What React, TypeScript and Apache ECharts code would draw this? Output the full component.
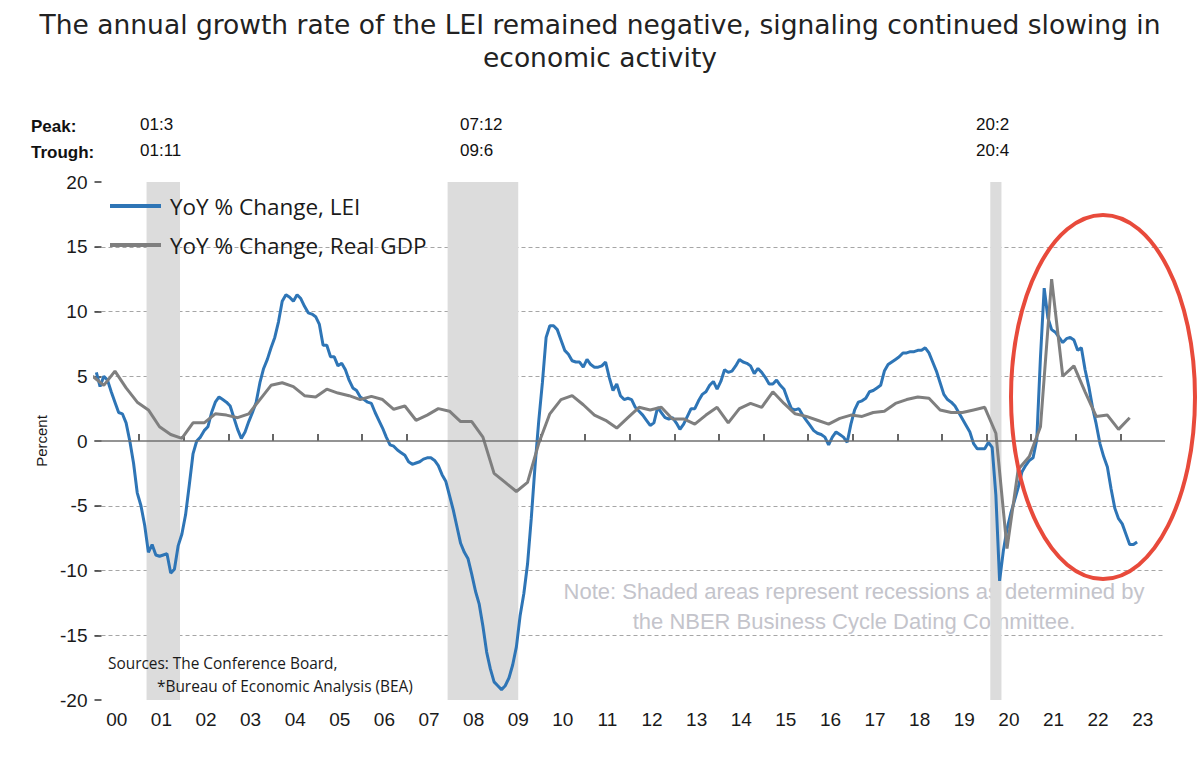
import React, { useEffect, useRef } from "react";
import * as echarts from "echarts";

// ---------- DATA ----------
const yearLabels = [
  "00", "01", "02", "03", "04", "05", "06", "07", "08", "09", "10", "11",
  "12", "13", "14", "15", "16", "17", "18", "19", "20", "21", "22", "23",
];
const firstYear = 2000;

const yTicks = [-20, -15, -10, -5, 0, 5, 10, 15, 20];

// LEI, YoY % change, monthly from Jan 2000
const leiMonthly = [
  5.3, 4.2, 5.0, 4.7, 3.8, 3.0, 2.2, 2.1, 1.4, 0.0, -1.7, -4.0, // 2000
  -5.0, -6.5, -8.6, -8.0, -8.8, -8.9, -8.8, -8.7, -10.2, -9.9, -8.1, -7.2, // 2001
  -5.7, -3.4, -1.0, 0.0, 0.3, 0.8, 1.1, 2.2, 3.0, 3.4, 3.2, 3.0, // 2002
  2.7, 1.8, 0.9, 0.2, 0.7, 1.5, 2.2, 3.0, 4.5, 5.6, 6.3, 7.2, // 2003
  8.0, 9.2, 10.8, 11.3, 11.1, 10.8, 11.3, 11.0, 10.4, 9.9, 9.8, 9.6, // 2004
  9.0, 7.4, 7.4, 6.5, 6.5, 5.8, 6.0, 5.5, 4.7, 4.1, 3.9, 3.4, // 2005
  3.2, 3.0, 2.9, 2.2, 1.6, 1.0, 0.3, -0.3, -0.4, -0.7, -0.9, -1.1, // 2006
  -1.6, -1.8, -1.7, -1.6, -1.4, -1.3, -1.3, -1.5, -1.9, -2.6, -3.1, -4.2, // 2007
  -5.3, -6.6, -7.9, -8.6, -9.1, -10.3, -11.6, -12.6, -14.3, -16.3, -17.6, -18.6, // 2008
  -18.9, -19.2, -18.9, -18.3, -17.3, -15.9, -13.5, -11.8, -9.5, -6.0, -2.0, 1.5, // 2009
  4.5, 8.0, 8.9, 8.9, 8.6, 7.8, 7.0, 6.7, 6.2, 6.1, 6.1, 5.7, // 2010
  6.3, 5.9, 5.7, 5.7, 5.8, 6.1, 4.9, 3.9, 4.4, 3.5, 3.2, 3.3, // 2011
  3.2, 2.6, 2.3, 2.0, 1.6, 1.2, 1.4, 2.6, 2.2, 1.8, 1.7, 1.8, // 2012
  1.4, 0.9, 1.3, 1.9, 2.5, 2.5, 3.1, 3.6, 3.8, 4.3, 4.6, 4.0, // 2013
  4.6, 5.5, 5.3, 5.4, 5.8, 6.3, 6.1, 6.0, 5.8, 5.2, 5.6, 5.3, // 2014
  4.9, 4.4, 4.4, 4.7, 4.3, 4.0, 3.2, 2.5, 2.4, 2.5, 2.0, 1.6, // 2015
  1.2, 0.8, 0.6, 0.5, 0.3, -0.3, 0.3, 0.7, 0.5, 0.3, -0.1, 1.3, // 2016
  2.4, 3.0, 3.1, 3.3, 3.8, 3.9, 4.1, 4.3, 5.4, 5.9, 6.1, 6.3, // 2017
  6.5, 6.8, 6.8, 6.9, 6.9, 7.0, 7.0, 7.2, 6.8, 6.1, 5.4, 4.5, // 2018
  3.6, 3.2, 3.0, 2.7, 2.2, 1.7, 1.2, 0.7, -0.2, -0.6, -0.6, -0.6, // 2019
  -0.1, -0.5, -4.2, -10.8, -8.5, -6.8, -5.6, -4.6, -3.6, -2.4, -1.9, -1.5, // 2020
  -1.3, 0.1, 6.5, 11.8, 9.5, 8.6, 8.4, 8.0, 7.6, 7.9, 8.0, 7.8, // 2021
  7.0, 7.2, 5.5, 4.2, 2.6, 1.3, -0.2, -1.2, -2.0, -3.7, -5.2, -6.0, // 2022
  -6.4, -7.2, -8.0, -8.0, -7.8, // 2023
];

// Real GDP, YoY % change, quarterly from 1999 Q4
const gdpQuarterly = [
  5.0, // 1999 Q4
  4.3, 5.4, 4.1, 3.0, // 2000
  2.4, 1.1, 0.5, 0.2, // 2001
  1.4, 1.4, 2.1, 2.0, // 2002
  1.8, 2.1, 3.2, 4.3, // 2003
  4.5, 4.2, 3.5, 3.4, // 2004
  4.0, 3.7, 3.5, 3.2, // 2005
  3.45, 3.2, 2.45, 2.7, // 2006
  1.6, 2.0, 2.5, 2.3, // 2007
  1.5, 1.5, 0.3, -2.5, // 2008
  -3.2, -3.9, -3.2, -0.2, // 2009
  2.1, 3.2, 3.5, 2.8, // 2010
  2.0, 1.6, 1.0, 1.8, // 2011
  2.6, 2.4, 2.6, 1.7, // 2012
  1.7, 1.3, 2.0, 2.6, // 2013
  1.4, 2.5, 2.9, 2.6, // 2014
  3.8, 2.9, 2.1, 1.9, // 2015
  1.6, 1.3, 1.75, 2.0, // 2016
  1.9, 2.2, 2.3, 2.9, // 2017
  3.2, 3.4, 3.3, 2.4, // 2018
  2.2, 2.2, 2.4, 2.6, // 2019
  0.6, -8.3, -2.2, -1.2, // 2020
  1.1, 12.5, 5.0, 5.8, // 2021
  3.8, 1.9, 2.0, 0.9, // 2022
  1.8, // 2023
];

// NBER recessions: [year, month] of peak and trough
const recessionPeaks = [[2001, 3], [2007, 12], [2020, 2]];
const recessionTroughs = [[2001, 11], [2009, 6], [2020, 4]];
const peakLabels = ["01:3", "07:12", "20:2"];
const troughLabels = ["01:11", "09:6", "20:4"];

const seriesNames = ["YoY % Change, LEI", "YoY % Change, Real GDP"];

// ---------- BUILD ----------
const leiData = leiMonthly.map((v, i) => [firstYear + (i + 0.5) / 12, v]);
const gdpData = gdpQuarterly.map((v, i) => [firstYear + (3 * (i - 1) + 2.5) / 12, v]);
const recessionAreas = recessionPeaks.map((p, i) => [
  { xAxis: p[0] + (p[1] - 1) / 12 },
  { xAxis: recessionTroughs[i][0] + recessionTroughs[i][1] / 12 },
]);
const xTickValues = yearLabels.slice(1).map((_, i) => firstYear + i + 1);
const xLabelValues = yearLabels.map((_, i) => firstYear + i + 0.5);

const AX_FONT = '"Liberation Sans", Arial, sans-serif';
const CAL_FONT = '"Open Sans", Lato, sans-serif';

export default function App() {
  const ref = useRef<HTMLDivElement>(null);
  useEffect(() => {
    const chart = echarts.init(ref.current!, null, { renderer: "svg" });
    const gridColors = yTicks.map((t) =>
      t === 0 || t === yTicks[0] || t === yTicks[yTicks.length - 1] ? "rgba(0,0,0,0)" : "#a6a6a6"
    );
    const recessionText: any[] = [];
    const labelX = [140, 460, 976];
    peakLabels.forEach((p, i) => {
      recessionText.push({
        type: "text", left: labelX[i], top: 116, z: 10,
        style: { text: p, font: `17px ${AX_FONT}`, fill: "#111" },
      });
      recessionText.push({
        type: "text", left: labelX[i], top: 142, z: 10,
        style: { text: troughLabels[i], font: `17px ${AX_FONT}`, fill: "#111" },
      });
    });
    const option: any = {
      animation: false,
      backgroundColor: "#ffffff",
      title: {
        text: "The annual growth rate of the LEI remained negative, signaling continued slowing in\neconomic activity",
        left: "center",
        top: 3,
        textStyle: {
          fontFamily: '"DejaVu Sans", sans-serif',
          fontSize: 26.5,
          fontWeight: "normal",
          color: "#222222",
          lineHeight: 33,
        },
      },
      legend: {
        data: seriesNames,
        orient: "vertical",
        left: 105,
        top: 189,
        itemWidth: 51,
        itemHeight: 4,
        itemGap: 15,
        icon: "rect",
        selectedMode: false,
        textStyle: { fontFamily: CAL_FONT, fontSize: 22.5, color: "#1a1a1a", lineHeight: 24, padding: [0, 0, 0, 4] },
      },
      grid: { left: 94.5, right: 35, top: 182, bottom: 67 },
      xAxis: {
        type: "value",
        min: firstYear,
        max: firstYear + yearLabels.length,
        axisLine: { show: false },
        splitLine: { show: false },
        axisTick: {
          show: true, inside: true, length: 7, customValues: xTickValues,
          lineStyle: { color: "#333", width: 1.5 },
        },
        axisLabel: {
          customValues: xLabelValues,
          formatter: (v: number) => yearLabels[Math.floor(v) - firstYear],
          fontFamily: AX_FONT, fontSize: 19, color: "#1a1a1a", margin: 10,
        },
      },
      yAxis: {
        type: "value",
        min: -20, max: 20, interval: 5,
        name: "Percent",
        nameLocation: "middle",
        nameRotate: 90,
        nameGap: 42,
        nameTextStyle: { fontFamily: AX_FONT, fontSize: 15, color: "#1a1a1a" },
        axisLine: { show: false },
        axisTick: { show: true, inside: true, length: 7, lineStyle: { color: "#333", width: 1.5 } },
        axisLabel: { fontFamily: AX_FONT, fontSize: 19, color: "#1a1a1a", margin: 7 },
        splitLine: { show: true, lineStyle: { type: [4, 3], color: gridColors, width: 1 } },
      },
      series: [
        {
          name: "bg", type: "line", data: [], silent: true, z: 1,
          markArea: { silent: true, itemStyle: { color: "#dcdcdc" }, data: recessionAreas },
          markLine: {
            silent: true, symbol: "none", label: { show: false },
            lineStyle: { type: "solid", color: "#707070", width: 1.5 },
            data: [{ yAxis: 0 }],
          },
        },
        {
          name: seriesNames[0], type: "line", data: leiData, symbol: "none", z: 3,
          lineStyle: { color: "#2e75b6", width: 3 }, itemStyle: { color: "#2e75b6" },
        },
        {
          name: seriesNames[1], type: "line", data: gdpData, symbol: "none", z: 4,
          lineStyle: { color: "#7f7f7f", width: 3 }, itemStyle: { color: "#7f7f7f" },
        },
      ],
      graphic: [
        { type: "text", left: 31, top: 118, z: 10, style: { text: "Peak:", font: `bold 17px ${AX_FONT}`, fill: "#111" } },
        { type: "text", left: 31, top: 144, z: 10, style: { text: "Trough:", font: `bold 17px ${AX_FONT}`, fill: "#111" } },
        ...recessionText,
        {
          type: "text", x: 854, y: 591, z: 0,
          style: { text: "Note: Shaded areas represent recessions as determined by", font: `22px ${AX_FONT}`, fill: "#c4c4cb", align: "center", verticalAlign: "middle" },
        },
        {
          type: "text", x: 854, y: 621, z: 0,
          style: { text: "the NBER Business Cycle Dating Committee.", font: `22px ${AX_FONT}`, fill: "#c4c4cb", align: "center", verticalAlign: "middle" },
        },
        {
          type: "text", x: 108, y: 663, z: 10,
          style: { text: "Sources: The Conference Board,", font: `15.4px ${CAL_FONT}`, fill: "#1a1a1a", verticalAlign: "middle" },
        },
        {
          type: "text", x: 157, y: 686, z: 10,
          style: { text: "*Bureau of Economic Analysis (BEA)", font: `15.4px ${CAL_FONT}`, fill: "#1a1a1a", verticalAlign: "middle" },
        },
        {
          type: "ellipse", z: 100,
          shape: { cx: 1103, cy: 397, rx: 92, ry: 182 },
          style: { fill: "none", stroke: "#e84a3b", lineWidth: 4 },
        },
      ],
    };
    chart.setOption(option);
    return () => chart.dispose();
  }, []);
  return <div ref={ref} style={{ position: "absolute", left: 0, top: 0, width: 1200, height: 767 }} />;
}
